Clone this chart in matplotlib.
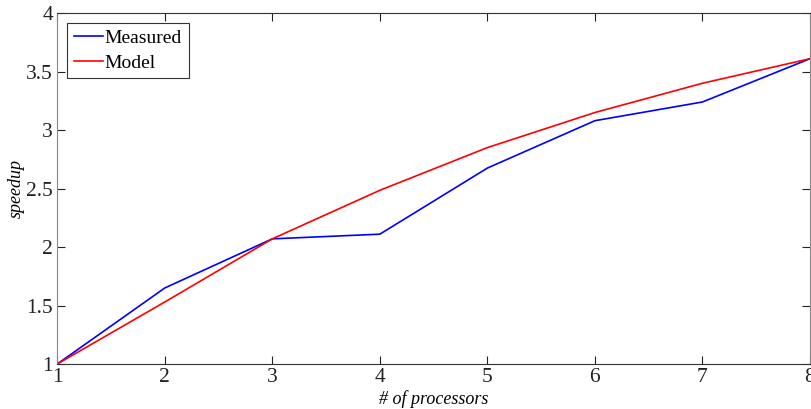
import matplotlib
matplotlib.use("Agg")
import matplotlib.pyplot as plt

processors = [1, 2, 3, 4, 5, 6, 7, 8]
measured = [1.0, 1.65, 2.07, 2.11, 2.675, 3.08, 3.24, 3.61]
model = [1.0, 1.53, 2.07, 2.485, 2.85, 3.15, 3.40, 3.61]

plt.rcParams['font.family'] = ['Liberation Serif', 'DejaVu Serif']

fig = plt.figure(figsize=(8.12, 4.09), dpi=100)
ax = fig.add_axes([0.0705, 0.110, 0.927, 0.858])

ax.plot(processors, measured, color='#0000ff', lw=1.2, label='Measured')
ax.plot(processors, model, color='#ff0000', lw=1.2, label='Model')

ax.set_xlim(1, 8)
ax.set_ylim(1, 4)
ax.set_xticks(processors)
ax.set_yticks([1, 1.5, 2, 2.5, 3, 3.5, 4])
ax.set_yticklabels(['1', '1.5', '2', '2.5', '3', '3.5', '4'])

ax.tick_params(direction='in', top=True, right=True, length=6, width=0.8,
               labelsize=15.5, colors='#222222', pad=3)
for side in ['bottom', 'top']:
    ax.spines[side].set_color('#333333')
for side in ['left', 'right']:
    ax.spines[side].set_color('#888888')

ax.set_xlabel('# of processors', fontstyle='italic', fontsize=13, labelpad=2)
ax.set_ylabel('speedup', fontstyle='italic', fontsize=13)
ax.yaxis.set_label_coords(-0.043, 0.5)

leg = ax.legend(loc='upper left', fontsize=14, fancybox=False, framealpha=1,
                edgecolor='#333333', handlelength=1.5, handletextpad=0.1,
                borderpad=0.35, labelspacing=0.35, borderaxespad=0.5)
leg.get_frame().set_linewidth(0.8)

fig.savefig('out.png', dpi=100)
